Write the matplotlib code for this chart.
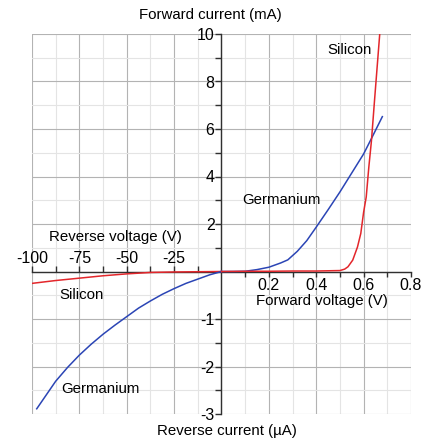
import numpy as np
import matplotlib
matplotlib.use('Agg')
import matplotlib.pyplot as plt
from matplotlib.ticker import FixedLocator, FuncFormatter
from matplotlib.transforms import offset_copy

plt.rcParams['font.family'] = ['Liberation Sans', 'DejaVu Sans']
plt.rcParams['axes.unicode_minus'] = False

# forward side: volts, mA
si_fwd_v = [0, 0.1, 0.2, 0.3, 0.4, 0.5, 0.52, 0.534, 0.554, 0.574, 0.588, 0.6, 0.611, 0.622, 0.633, 0.646, 0.668]
si_fwd_i = [0, 0.01, 0.01, 0.02, 0.02, 0.04, 0.1, 0.2, 0.48, 1.03, 1.6, 2.5, 3.14, 4.4, 5.5, 7.2, 10.0]
ge_fwd_v = [0, 0.05, 0.1, 0.15, 0.2, 0.25, 0.28, 0.32, 0.36, 0.4, 0.45, 0.5, 0.55, 0.6, 0.633, 0.679]
ge_fwd_i = [0, 0.0, 0.01, 0.08, 0.18, 0.36, 0.49, 0.85, 1.3, 1.87, 2.6, 3.35, 4.15, 4.95, 5.6, 6.52]

# reverse side: volts, uA
si_rev_v = [0, -25, -37.5, -50, -62.5, -75, -87.5, -100]
si_rev_i = [0, -0.01, -0.02, -0.05, -0.09, -0.14, -0.19, -0.25]
ge_rev_v = [0, -6.25, -12.5, -18.75, -25, -31.25, -37.5, -43.75, -50, -56.25, -62.5,
            -68.75, -75, -81.25, -87.5, -92.5, -97.5]
ge_rev_i = [0, -0.07, -0.16, -0.25, -0.36, -0.48, -0.62, -0.77, -0.95, -1.13, -1.32,
            -1.53, -1.76, -2.02, -2.31, -2.6, -2.89]

rev_v_ticks = [-100, -75, -50, -25]
fwd_v_ticks = [0.2, 0.4, 0.6, 0.8]
fwd_i_ticks = [2, 4, 6, 8, 10]
rev_i_ticks = [-1, -2, -3]

# both halves share one axes: reverse values get rescaled
XS = 0.8 / 100.0   # reverse V -> plot units
YS = 2.0           # reverse uA -> plot units

RED = '#e3262b'
BLUE = '#2b45b5'
AX_COL = '#303030'
FS = 10.8
TFS = 11.5

W, H = 435, 440
fig = plt.figure(figsize=(W / 100, H / 100), dpi=100)
ax = fig.add_axes([32 / W, 26 / H, 379 / W, 380 / H])
ax.set_xlim(-0.8, 0.8)
ax.set_ylim(-3 * YS, 10)

def px(x, y):
    return x / W, 1 - y / H

# grid, major darker than minor
for k in range(-8, 9):
    ax.axvline(k * 0.1, color='#b3b3b3' if k % 2 == 0 else '#e4e4e4', lw=0.8, zorder=0)
for k in range(-6, 11):
    ax.axhline(k, color='#b3b3b3' if k % 2 == 0 else '#e4e4e4', lw=0.8, zorder=0)

for s in ['top', 'right']:
    ax.spines[s].set_visible(False)
for s in ['left', 'bottom']:
    ax.spines[s].set_position(('data', 0))
    ax.spines[s].set_color(AX_COL)
    ax.spines[s].set_linewidth(1.0)
    ax.spines[s].set_zorder(3)

# y ticks (left of the axis for both halves)
ymaj = fwd_i_ticks + [v * YS for v in rev_i_ticks]
ax.yaxis.set_major_locator(FixedLocator(ymaj))
ax.yaxis.set_minor_locator(FixedLocator([y - 1 for y in ymaj]))
ax.yaxis.set_major_formatter(FuncFormatter(lambda y, p: '%d' % y if y > 0 else '%d' % round(y / YS)))
ax.tick_params(axis='y', which='both', direction='out', length=4, width=1, color=AX_COL,
               labelsize=TFS, pad=1)

# x ticks for the forward half (below)
ax.xaxis.set_major_locator(FixedLocator(fwd_v_ticks))
ax.xaxis.set_minor_locator(FixedLocator([v - 0.1 for v in fwd_v_ticks]))
ax.xaxis.set_major_formatter(FuncFormatter(lambda x, p: '%.1f' % x))
ax.tick_params(axis='x', which='both', direction='out', length=3.5, width=1, color=AX_COL,
               labelsize=TFS, pad=1)

# reverse half ticks point up, labels above
rev_pos = [v * XS for v in rev_v_ticks]
ax.plot(rev_pos + [p + 12.5 * XS for p in rev_pos], [0] * 8, ls='none', marker=2,
        ms=4, mew=1, color=AX_COL, zorder=3, clip_on=False)
tr = offset_copy(ax.transData, fig=fig, y=6, units='points')
for v in rev_v_ticks:
    ax.text(v * XS, 0, '%d' % v, ha='center', va='baseline', fontsize=TFS, transform=tr)

# curves
ax.plot(np.array(si_rev_v) * XS, np.array(si_rev_i) * YS, color=RED, lw=1.1, zorder=4)
ax.plot(np.array(ge_rev_v) * XS, np.array(ge_rev_i) * YS, color=BLUE, lw=1.1, zorder=4)
ax.plot(ge_fwd_v, ge_fwd_i, color=BLUE, lw=1.1, zorder=4)
ax.plot(si_fwd_v, si_fwd_i, color=RED, lw=1.1, zorder=5)

# titles and curve names
fig.text(*px(210, 15), 'Forward current (mA)', ha='center', va='center', fontsize=FS)
fig.text(*px(227, 431), 'Reverse current (µA)', ha='center', va='center', fontsize=FS)
fig.text(*px(115, 237), 'Reverse voltage (V)', ha='center', va='center', fontsize=FS)
fig.text(*px(322, 301), 'Forward voltage (V)', ha='center', va='center', fontsize=FS)
fig.text(*px(350, 50), 'Silicon', ha='center', va='center', fontsize=FS)
fig.text(*px(281, 200), 'Germanium', ha='center', va='center', fontsize=FS)
fig.text(*px(82, 295), 'Silicon', ha='center', va='center', fontsize=FS)
fig.text(*px(100, 389), 'Germanium', ha='center', va='center', fontsize=FS)

fig.savefig('out.png', dpi=100)
